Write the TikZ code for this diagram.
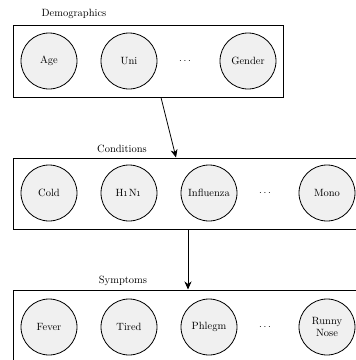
\documentclass[tikz,border=0pt]{standalone}
\usepackage{xcolor}
\usepackage{tikz}
\usetikzlibrary{shapes,arrows.meta,positioning,calc}

\tikzset{
    var/.style={circle, draw, thick, fill=black!6, minimum size=56pt, inner sep=0pt,
        font=\fontsize{10.5}{11.5}\selectfont, align=center},
    group/.style={rectangle, draw, line width=1pt, inner sep=0pt},
    grouplabel/.style={font=\fontsize{10.5}{12}\selectfont},
    link/.style={-{Stealth[length=8pt, width=7pt, inset=2.5pt]}, thick}
}

\begin{document}
\begin{tikzpicture}[x=1pt, y=-1pt]
    \useasboundingbox (0,0) rectangle (356,360);
    \clip (0,0) rectangle (356,360);

    % Demographics
    \node[group, minimum width=270pt, minimum height=72pt] (demo) at (149, 61) {};
    \node[grouplabel] (demolbl) at (74, 14) {Demographics};
    \node[var] (age) at (49, 61) {Age};
    \node[var] (uni) at (129, 61) {Uni};
    \node (demodots) at (185, 61) {$\cdots$};
    \node[var] (gender) at (248, 61) {Gender};

    % Conditions
    \node[group, minimum width=362pt, minimum height=71pt] (cond) at (195, 193.5) {};
    \node[grouplabel] (condlbl) at (122, 149) {Conditions};
    \node[var] (cold) at (49, 193) {Cold};
    \node[var] (hn) at (129, 193) {H\oldstylenums{1}N\oldstylenums{1}};
    \node[var] (flu) at (209, 193) {Influenza};
    \node (conddots) at (265, 193) {$\cdots$};
    \node[var] (mono) at (327, 193) {Mono};

    % Symptoms
    \node[group, minimum width=362pt, minimum height=74pt] (symp) at (195, 327) {};
    \node[grouplabel] (symplbl) at (123, 281) {Symptoms};
    \node[var] (fever) at (49, 327) {Fever};
    \node[var] (tired) at (129, 327) {Tired};
    \node[var] (phlegm) at (209, 327) {Phlegm};
    \node (sympdots) at (265, 327) {$\cdots$};
    \node[var] (runny) at (327, 327) {Runny\\Nose};

    \draw[link] ([xshift=12pt]demo.south) -- ([xshift=-19pt]cond.north);
    \draw[link] ([xshift=-7pt]cond.south) -- ([xshift=-7pt]symp.north);
\end{tikzpicture}
\end{document}
